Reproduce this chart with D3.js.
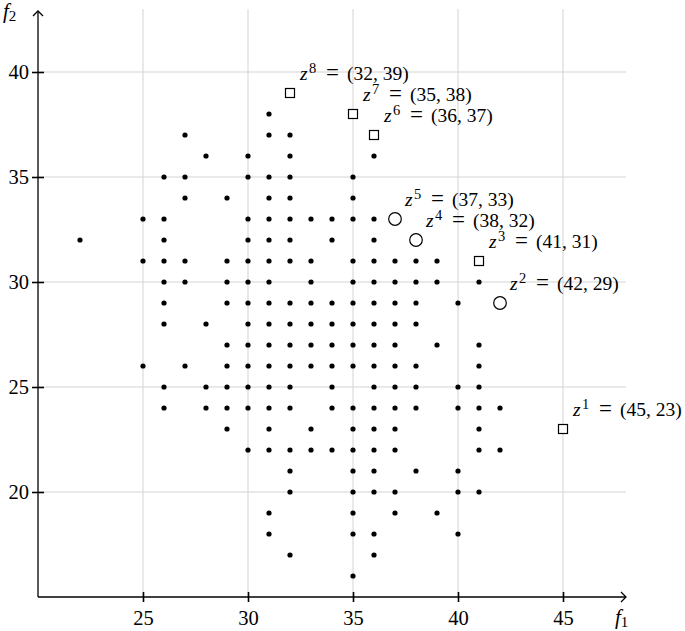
<!DOCTYPE html>
<html>
<head>
<meta charset="utf-8">
<script src="https://cdn.jsdelivr.net/npm/d3@7"></script>
<style>
  html, body { margin: 0; padding: 0; background: #fff; }
  svg { display: block; }
  text { font-family: "Liberation Serif", "DejaVu Serif", serif; fill: #000; }
</style>
</head>
<body>
<svg id="chart" width="685" height="631"></svg>
<script>
// ---------- data ----------
// background points, listed row by row (f2 value, then its f1 values)
const rowF2 = [38, 37, 36, 35, 34, 33, 32, 31, 30, 29, 28, 27, 26, 25, 24, 23, 22, 21, 20, 19, 18, 17, 16];
const rowF1 = [
  [31],
  [27, 31, 32],
  [28, 30, 32, 36],
  [26, 27, 30, 31, 32, 35],
  [27, 29, 31, 32, 35],
  [25, 26, 30, 31, 32, 33, 34, 35, 36],
  [22, 26, 30, 31, 32, 34, 36],
  [25, 26, 27, 29, 30, 31, 32, 33, 35, 36, 37, 38, 39],
  [26, 27, 29, 30, 31, 33, 35, 36, 37, 38, 39, 41],
  [26, 29, 30, 31, 32, 33, 34, 35, 36, 37, 38, 40],
  [26, 28, 30, 31, 32, 33, 34, 35, 36, 37, 38],
  [29, 30, 31, 32, 33, 34, 35, 36, 37, 39, 41],
  [25, 27, 29, 30, 31, 32, 33, 34, 35, 36, 37, 38, 41],
  [26, 28, 29, 30, 31, 32, 34, 36, 37, 38, 40, 41],
  [26, 28, 29, 30, 31, 32, 34, 35, 36, 37, 38, 40, 41, 42],
  [29, 31, 33, 35, 36, 37, 41],
  [30, 31, 32, 33, 34, 35, 36, 37, 41, 42],
  [32, 35, 36, 38, 40],
  [32, 35, 36, 37, 40, 41],
  [31, 35, 37, 39],
  [31, 35, 36, 40],
  [32, 36],
  [35]
];

// highlighted points z^1 ... z^8
const zIndex  = [1, 2, 3, 4, 5, 6, 7, 8];
const zF1     = [45, 42, 41, 38, 37, 36, 35, 32];
const zF2     = [23, 29, 31, 32, 33, 37, 38, 39];
const zMarker = ["square", "circle", "square", "circle", "circle", "square", "square", "square"];

const xTicks = [25, 30, 35, 40, 45];
const yTicks = [20, 25, 30, 35, 40];
const xDomain = [20, 48];
const yDomain = [15, 43];

// ---------- drawing ----------
const svg = d3.select("#chart");
const x = d3.scaleLinear().domain(xDomain).range([38, 626]);
const y = d3.scaleLinear().domain(yDomain).range([597, 9]);

const points = [];
rowF2.forEach((f2, i) => rowF1[i].forEach(f1 => points.push({f1, f2})));

// grid
const grid = svg.append("g").attr("stroke", "#d3d3d3").attr("stroke-width", 1);
grid.selectAll("line.v").data(xTicks).join("line")
  .attr("x1", d => x(d)).attr("x2", d => x(d))
  .attr("y1", y(yDomain[0])).attr("y2", y(yDomain[1]));
grid.selectAll("line.h").data(yTicks).join("line")
  .attr("y1", d => y(d)).attr("y2", d => y(d))
  .attr("x1", x(xDomain[0])).attr("x2", x(xDomain[1]));

// axes using d3 axis generators
const xAxis = d3.axisBottom(x).tickValues(xTicks).tickSizeInner(0).tickSizeOuter(0).tickPadding(9);
const yAxis = d3.axisLeft(y).tickValues(yTicks).tickSizeInner(0).tickSizeOuter(0).tickPadding(9);

const gx = svg.append("g").attr("transform", `translate(0,${y(yDomain[0])})`).call(xAxis);
const gy = svg.append("g").attr("transform", `translate(${x(xDomain[0])},0)`).call(yAxis);
[gx, gy].forEach(g => {
  g.select(".domain").remove();
  g.selectAll("text").attr("font-family", "Liberation Serif, serif").attr("font-size", 20.5).attr("fill", "#000");
});
gx.selectAll(".tick text").attr("dy", "0.95em");
// tick marks crossing the axis
gx.selectAll(".tick").append("line").attr("y1", -5).attr("y2", 5).attr("stroke", "#000").attr("stroke-width", 1.6);
gy.selectAll(".tick").append("line").attr("x1", -6).attr("x2", 6).attr("stroke", "#000").attr("stroke-width", 1.6);

// axis lines with open arrow heads
const axisG = svg.append("g").attr("stroke", "#000").attr("stroke-width", 1.3).attr("fill", "none");
axisG.append("line").attr("x1", x(xDomain[0])).attr("x2", x(xDomain[1])).attr("y1", y(yDomain[0])).attr("y2", y(yDomain[0]));
axisG.append("line").attr("x1", x(xDomain[0])).attr("x2", x(xDomain[0])).attr("y1", y(yDomain[0])).attr("y2", y(yDomain[1]) + 2);
axisG.append("path").attr("d", `M${x(xDomain[1]) - 5},${y(yDomain[0]) - 5} L${x(xDomain[1])},${y(yDomain[0])} L${x(xDomain[1]) - 5},${y(yDomain[0]) + 5}`);
axisG.append("path").attr("d", `M${x(xDomain[0]) - 5},${y(yDomain[1]) + 7} L${x(xDomain[0])},${y(yDomain[1]) + 2} L${x(xDomain[0]) + 5},${y(yDomain[1]) + 7}`);

// axis labels
const xl = svg.append("text").attr("x", 615).attr("y", 624).attr("font-size", 21);
xl.append("tspan").attr("font-style", "italic").text("f");
xl.append("tspan").attr("font-size", 15).attr("dy", 3).text("1");
const yl = svg.append("text").attr("x", 3).attr("y", 18).attr("font-size", 21);
yl.append("tspan").attr("font-style", "italic").text("f");
yl.append("tspan").attr("font-size", 15).attr("dy", 3).text("2");

// background dots
svg.append("g").selectAll("circle").data(points).join("circle")
  .attr("cx", d => x(d.f1)).attr("cy", d => y(d.f2)).attr("r", 2.6).attr("fill", "#000");

// highlighted points
const zData = zIndex.map((k, i) => ({k, f1: zF1[i], f2: zF2[i], m: zMarker[i]}));
const zg = svg.append("g");
zg.selectAll("rect").data(zData.filter(d => d.m === "square")).join("rect")
  .attr("x", d => x(d.f1) - 4.5).attr("y", d => y(d.f2) - 4.5)
  .attr("width", 9).attr("height", 9)
  .attr("fill", "#fff").attr("stroke", "#000").attr("stroke-width", 1.2);
zg.selectAll("circle").data(zData.filter(d => d.m === "circle")).join("circle")
  .attr("cx", d => x(d.f1)).attr("cy", d => y(d.f2)).attr("r", 6.3)
  .attr("fill", "#fff").attr("stroke", "#000").attr("stroke-width", 1.2);

// labels: z^k = (f1, f2)
const lab = svg.append("g").selectAll("text").data(zData).join("text")
  .attr("x", d => x(d.f1) + 10).attr("y", d => y(d.f2) - 13)
  .attr("font-size", 19.5).attr("fill", "#111");
lab.append("tspan").attr("font-style", "italic").text("z");
lab.append("tspan").attr("font-size", 14.5).attr("x", d => x(d.f1) + 19).attr("dy", -7).text(d => d.k);
lab.append("tspan").attr("x", d => x(d.f1) + 36).attr("dy", 7).attr("font-size", 23).text("=");
lab.append("tspan").attr("x", d => x(d.f1) + 57).text(d => `(${d.f1}, ${d.f2})`);
</script>
</body>
</html>
